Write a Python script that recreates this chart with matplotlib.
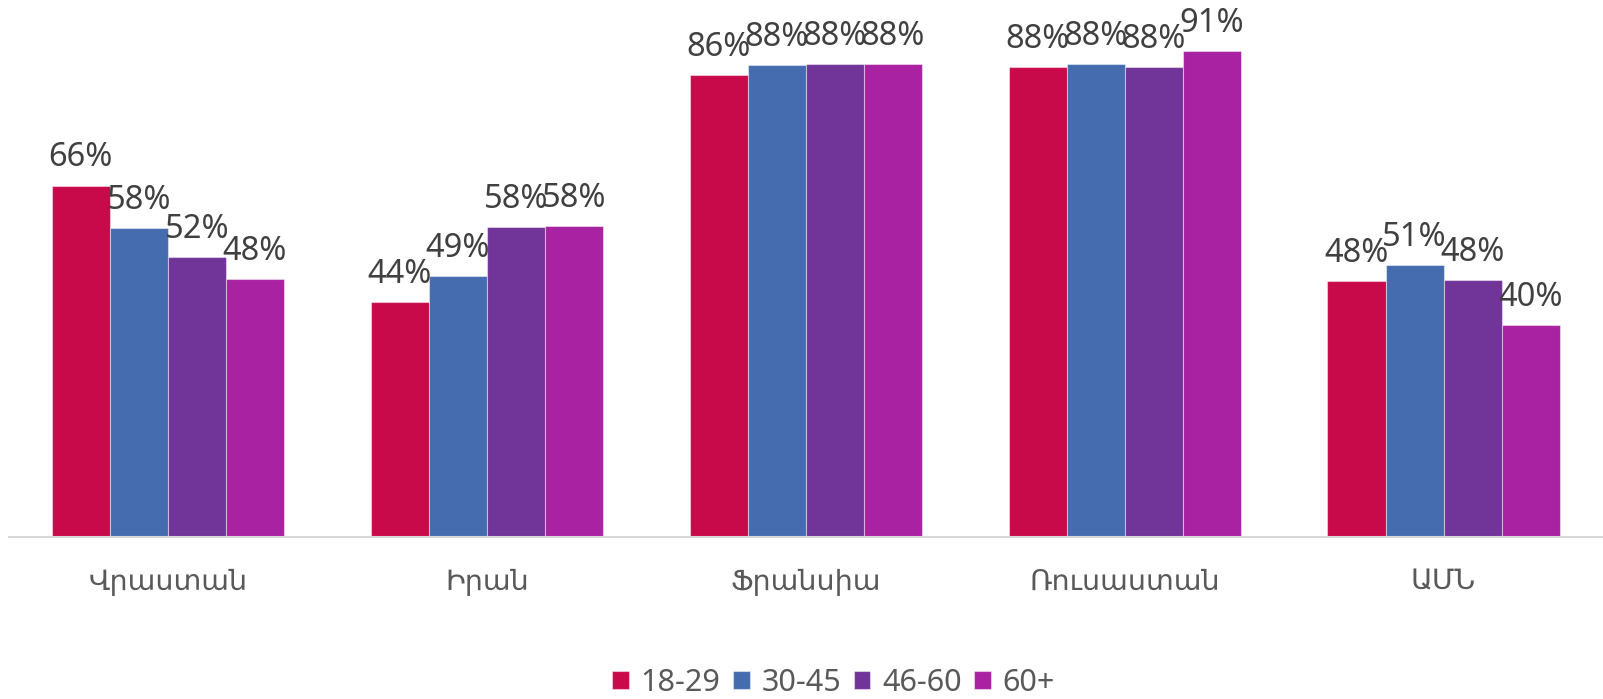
import matplotlib.pyplot as plt
import numpy as np

plt.rcParams['font.family'] = ['Noto Sans', 'DejaVu Sans']

countries = ['Վրաստան', 'Իրան', 'Ֆրանսիա', 'Ռուսաստան', 'ԱՄՆ']
age_groups = ['18-29', '30-45', '46-60', '60+']
colors = ['#C80A4B', '#466CB0', '#713599', '#A822A1']

v_18_29 = [65.7, 43.9, 86.4, 87.9, 47.9]
v_30_45 = [57.8, 48.7, 88.2, 88.4, 50.9]
v_46_60 = [52.3, 57.9, 88.35, 87.8, 48.0]
v_60plus = [48.2, 58.1, 88.45, 90.8, 39.6]
series = [v_18_29, v_30_45, v_46_60, v_60plus]

fig = plt.figure(figsize=(16.03, 6.99), dpi=100)
ax = fig.add_axes([8.5 / 1603, 162 / 699, 1 - 8.5 / 1603, 535 / 699])

x = np.arange(len(countries))
w = 0.182
for i, (vals, name, c) in enumerate(zip(series, age_groups, colors)):
    pos = x + (i - 1.5) * w
    ax.bar(pos, vals, width=w, color=c, edgecolor=(1, 1, 1, 0.45), linewidth=0.8, label=name)
    for xp, v in zip(pos, vals):
        ax.annotate(f'{v:.0f}%', (xp, v), xytext=(0, 8), textcoords='offset points',
                    ha='center', va='bottom', fontsize=23.5, color='#404040')

ax.set_xlim(-0.5, 4.5)
ax.set_ylim(0, 100)
ax.set_xticks(x)
ax.set_xticklabels(countries, fontsize=20.5, color='#595959')
ax.tick_params(axis='x', length=0, pad=22)
ax.set_yticks([])
for s in ['top', 'right', 'left']:
    ax.spines[s].set_visible(False)
ax.spines['bottom'].set_color('#D9D9D9')
ax.spines['bottom'].set_linewidth(1.5)

leg = fig.legend(loc='center', bbox_to_anchor=(0.52, 0.023), ncol=4, frameon=False,
                 fontsize=22, handlelength=0.55, handleheight=0.55, handletextpad=0.38,
                 columnspacing=0.41, borderaxespad=0)
for t in leg.get_texts():
    t.set_color('#595959')

fig.savefig('out.png', dpi=100)
